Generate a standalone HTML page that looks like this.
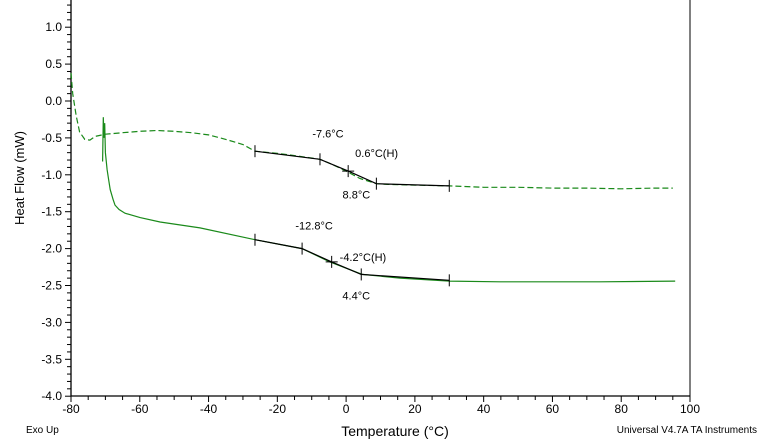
<!DOCTYPE html>
<html><head><meta charset="utf-8"><style>
body{margin:0;background:#fff;}
svg{display:block;font-family:"Liberation Sans",sans-serif;}
</style></head><body>
<svg id="chart" width="758" height="441" viewBox="0 0 758 441" xmlns="http://www.w3.org/2000/svg">
<g id="axes"></g>
<g id="series"></g>
<g id="annot"></g>
<text x="0" y="0" transform="translate(24,178) rotate(-90)" text-anchor="middle" font-size="13">Heat Flow (mW)</text>
<text x="395" y="436" text-anchor="middle" font-size="14">Temperature (°C)</text>
<text x="26" y="433" font-size="10">Exo Up</text>
<text x="757" y="433" text-anchor="end" font-size="10">Universal V4.7A TA Instruments</text>
</svg>
<script>
const xTicks=[-80,-60,-40,-20,0,20,40,60,80,100];
const yTicks=[1.0,0.5,0.0,-0.5,-1.0,-1.5,-2.0,-2.5,-3.0,-3.5,-4.0];
const cycle1T=[-80,-79.5,-78.5,-77.5,-76,-74.5,-73,-70,-65,-60,-55,-50,-45,-40,-35,-30,-26.5,-20,-15,-7.6,-4,0,4,8.8,12,20,30,40,50,60,70,80,90,95];
const cycle1V=[0.38,0.1,-0.2,-0.42,-0.52,-0.53,-0.48,-0.45,-0.43,-0.41,-0.40,-0.41,-0.43,-0.46,-0.52,-0.59,-0.68,-0.71,-0.74,-0.79,-0.86,-0.95,-1.05,-1.12,-1.13,-1.14,-1.15,-1.17,-1.17,-1.18,-1.18,-1.19,-1.18,-1.18];
const cycle2T=[-70.8,-70.6,-70.4,-70.2,-70,-69.5,-69,-68.6,-67.8,-67.2,-66,-64.3,-59.9,-54.1,-42.5,-26.5,-12.8,-4.7,4.7,15.7,30.2,44.8,73.9,95.7];
const cycle2V=[-0.82,-0.22,-0.5,-0.3,-0.7,-0.93,-1.08,-1.2,-1.33,-1.41,-1.47,-1.52,-1.58,-1.64,-1.72,-1.88,-2.0,-2.18,-2.35,-2.4,-2.44,-2.45,-2.45,-2.44];
const mark1T=[-26.5,-7.6,0.6,8.8,30];
const mark1V=[-0.68,-0.79,-0.95,-1.12,-1.15];
const mark2T=[-26.5,-12.8,-4.2,4.4,30];
const mark2V=[-1.88,-2.0,-2.18,-2.35,-2.43];
const labelText=["-7.6°C","0.6°C(H)","8.8°C","-12.8°C","-4.2°C(H)","4.4°C"];
const labelT=[-7.6,0.6,8.8,-12.8,-4.2,4.4];
const labelV=[-0.79,-0.95,-1.12,-2.0,-2.18,-2.35];

const NS="http://www.w3.org/2000/svg";
const X0=71,X1=690,Y0=101,PPY=73.8;
const sx=t=>X0+(t+80)*(X1-X0)/180;
const sy=v=>Y0-v*PPY;
function mk(tag,attrs,parent){const e=document.createElementNS(NS,tag);for(const k in attrs)e.setAttribute(k,attrs[k]);parent.appendChild(e);return e;}
const ax=document.getElementById('axes'),se=document.getElementById('series'),an=document.getElementById('annot');

let l=mk('line',{x1:X0,y1:0,x2:X0,y2:396,stroke:'#000','stroke-width':1.3},ax);


l=mk('line',{x1:X0,y1:396,x2:X1,y2:396,stroke:'#000','stroke-width':1.3},ax);


l=mk('line',{x1:X1,y1:0,x2:X1,y2:396,stroke:'#000','stroke-width':1},ax);


for(let v=1.3;v>=-4.001;v-=0.1){const y=sy(v);const major=Math.abs(Math.round(v*2)-v*2)<0.01;
 mk('line',{x1:X0-(major?6:4),y1:y,x2:X0,y2:y,stroke:'#000','stroke-width':1},ax);}
yTicks.forEach(v=>{const t=mk('text',{x:X0-9,y:sy(v)+4,'text-anchor':'end','font-size':12},ax);t.textContent=v.toFixed(1);
 
 });
for(let t=-80;t<=100;t+=5){const x=sx(t);const major=t%20===0;
 mk('line',{x1:x,y1:396,x2:x,y2:396+(major?6:4),stroke:'#000','stroke-width':1},ax);}
xTicks.forEach(v=>{const t=mk('text',{x:sx(v),y:413,'text-anchor':'middle','font-size':12},ax);t.textContent=v;
 
 });

const pts=(T,V)=>T.map((t,i)=>sx(t).toFixed(1)+','+sy(V[i]).toFixed(1)).join(' ');
let p=mk('polyline',{points:pts(cycle1T,cycle1V),fill:'none',stroke:'#1a8a1a','stroke-width':1.2,'stroke-dasharray':'6,3'},se);


p=mk('polyline',{points:pts(cycle2T,cycle2V),fill:'none',stroke:'#1a8a1a','stroke-width':1.2},se);


[[mark1T,mark1V,'cycle1'],[mark2T,mark2V,'cycle2']].forEach(([T,V,n])=>{
 const q=mk('polyline',{points:pts(T,V),fill:'none',stroke:'#000','stroke-width':1.2},an);
 
 
 T.forEach((t,i)=>{const x=sx(t),y=sy(V[i]);
  mk('line',{x1:x,y1:y-6,x2:x,y2:y+6,stroke:'#000','stroke-width':1},an);
  if(i===2)mk('line',{x1:x-6,y1:y,x2:x+6,y2:y,stroke:'#000','stroke-width':1},an);});
});
const offs=[[8,-22],[7,-14],[-20,15],[12,-19],[8,-1],[-5,25]];
labelText.forEach((s,i)=>{const t=mk('text',{x:sx(labelT[i])+offs[i][0],y:sy(labelV[i])+offs[i][1],'text-anchor':(i===1||i===4)?'start':'middle','font-size':11},an);
 t.textContent=s;
 
 });
</script>
</body></html>
